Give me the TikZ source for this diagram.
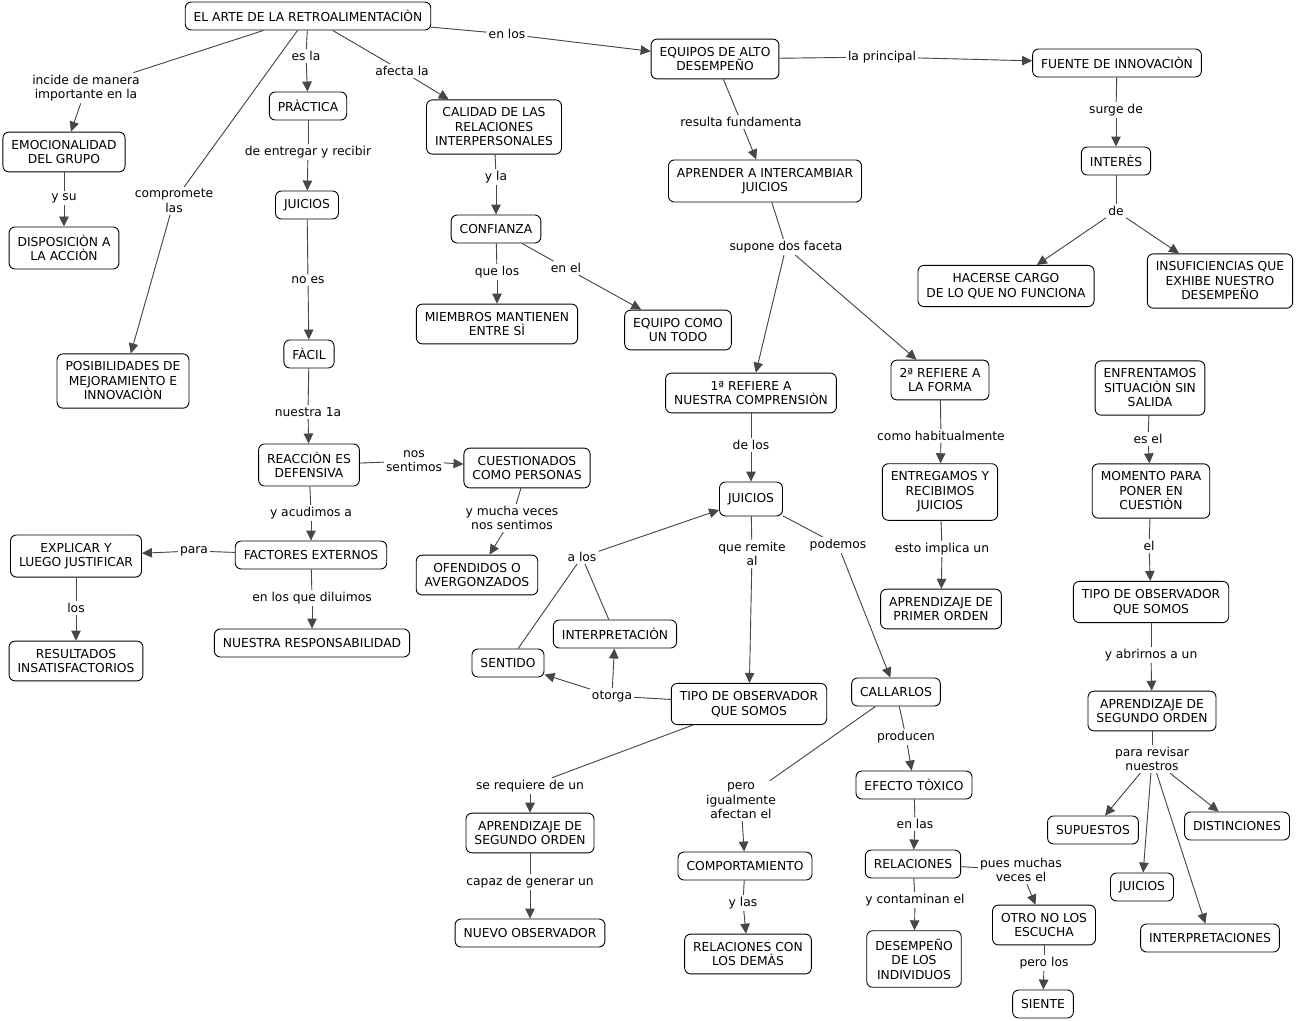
\documentclass[tikz,border=0pt]{standalone}
\usepackage{fontspec}
\setmainfont{DejaVu Sans}
\usetikzlibrary{arrows.meta}
\definecolor{linkgray}{HTML}{474747}
\tikzset{>={Triangle[length=10pt,width=9.5pt]}}
\tikzset{
  concept/.style={draw=black, line width=0.9pt, rounded corners=6pt, fill=white,
    align=center, inner xsep=8.5pt, inner ysep=8pt, minimum height=28pt,
    font=\fontsize{12.3}{14.5}\selectfont},
  linkph/.style={align=center, inner sep=2pt, font=\fontsize{12.3}{14.5}\selectfont},
  rel/.style={draw=linkgray, fill=linkgray, line width=0.9pt}
}
\begin{document}
\begin{tikzpicture}[x=1pt,y=-1pt]
    \useasboundingbox[fill=white] (0,0) rectangle (1297,1020);
    % concepts
    \node [concept] (arte) at (308,16) {EL ARTE DE LA RETROALIMENTACIÒN};
    \node [concept] (equipos) at (715,59) {EQUIPOS DE ALTO\\DESEMPEÑO};
    \node [concept] (fuente) at (1117,63) {FUENTE DE INNOVACIÒN};
    \node [concept] (interes) at (1116,161) {INTERÈS};
    \node [concept] (cargo) at (1006,286) {HACERSE CARGO\\DE LO QUE NO FUNCIONA};
    \node [concept] (insuf) at (1220,281) {INSUFICIENCIAS QUE\\EXHIBE NUESTRO\\DESEMPEÑO};
    \node [concept] (emoc) at (64,152) {EMOCIONALIDAD\\DEL GRUPO};
    \node [concept] (dispo) at (64,248) {DISPOSICIÒN A\\LA ACCIÒN};
    \node [concept] (posib) at (123,381) {POSIBILIDADES DE\\MEJORAMIENTO E\\INNOVACIÒN};
    \node [concept] (practica) at (308,106) {PRÀCTICA};
    \node [concept] (juiciosa) at (307,205) {JUICIOS};
    \node [concept] (facil) at (309,354) {FÀCIL};
    \node [concept] (reaccion) at (309,465) {REACCIÒN ES\\DEFENSIVA};
    \node [concept] (cuest) at (527,468) {CUESTIONADOS\\COMO PERSONAS};
    \node [concept] (ofend) at (477,575) {OFENDIDOS O\\AVERGONZADOS};
    \node [concept] (factores) at (311,555) {FACTORES EXTERNOS};
    \node [concept] (explicar) at (76,556) {EXPLICAR Y\\LUEGO JUSTIFICAR};
    \node [concept] (result) at (76,661) {RESULTADOS\\INSATISFACTORIOS};
    \node [concept] (respons) at (312,643) {NUESTRA RESPONSABILIDAD};
    \node [concept] (calidad) at (494,127) {CALIDAD DE LAS\\RELACIONES\\INTERPERSONALES};
    \node [concept] (confianza) at (496,229) {CONFIANZA};
    \node [concept] (miembros) at (497,324) {MIEMBROS MANTIENEN\\ENTRE SÌ};
    \node [concept] (todo) at (678,330) {EQUIPO COMO\\UN TODO};
    \node [concept] (aprender) at (765,181) {APRENDER A INTERCAMBIAR\\JUICIOS};
    \node [concept] (refa) at (751,393) {1ª REFIERE A\\NUESTRA COMPRENSIÒN};
    \node [concept] (refb) at (940,380) {2ª REFIERE A\\LA FORMA};
    \node [concept] (entreg) at (940,492) {ENTREGAMOS Y\\RECIBIMOS\\JUICIOS};
    \node [concept] (primer) at (941,609) {APRENDIZAJE DE\\PRIMER ORDEN};
    \node [concept, minimum height=34pt] (juiciosb) at (751,499) {JUICIOS};
    \node [concept] (interp) at (615,634) {INTERPRETACIÒN};
    \node [concept] (sentido) at (508,663) {SENTIDO};
    \node [concept] (tipoa) at (749,704) {TIPO DE OBSERVADOR\\QUE SOMOS};
    \node [concept] (callar) at (896,692) {CALLARLOS};
    \node [concept] (segunda) at (530,833) {APRENDIZAJE DE\\SEGUNDO ORDEN};
    \node [concept] (nuevo) at (530,933) {NUEVO OBSERVADOR};
    \node [concept] (compor) at (745,866) {COMPORTAMIENTO};
    \node [concept] (demas) at (748,954) {RELACIONES CON\\LOS DEMÀS};
    \node [concept] (toxico) at (914,785) {EFECTO TÒXICO};
    \node [concept] (relac) at (913,864) {RELACIONES};
    \node [concept] (desemp) at (914,959) {DESEMPEÑO\\DE LOS\\INDIVIDUOS};
    \node [concept] (otro) at (1044,925) {OTRO NO LOS\\ESCUCHA};
    \node [concept] (siente) at (1043,1004) {SIENTE};
    \node [concept] (enfren) at (1150,388) {ENFRENTAMOS\\SITUACIÒN SIN\\SALIDA};
    \node [concept] (momento) at (1151,491) {MOMENTO PARA\\PONER EN\\CUESTIÒN};
    \node [concept] (tipob) at (1151,602) {TIPO DE OBSERVADOR\\QUE SOMOS};
    \node [concept] (segundb) at (1152,711) {APRENDIZAJE DE\\SEGUNDO ORDEN};
    \node [concept] (supuestos) at (1093,830) {SUPUESTOS};
    \node [concept] (distinc) at (1237,826) {DISTINCIONES};
    \node [concept] (juiciosc) at (1142,887) {JUICIOS};
    \node [concept] (interps) at (1210,938) {INTERPRETACIONES};
    % linking phrases
    \node [linkph] (l1) at (507,34) {en los};
    \node [linkph] (l2) at (882,57) {la principal};
    \node [linkph] (l3) at (1116,110) {surge de};
    \node [linkph] (l4) at (1116,211) {de};
    \node [linkph] (l5) at (86,88) {incide de manera\\importante en la};
    \node [linkph] (l6) at (64,198) {y su};
    \node [linkph] (l7) at (174,201) {compromete\\las};
    \node [linkph] (l8) at (306,56) {es la};
    \node [linkph] (l9) at (308,152) {de entregar y recibir};
    \node [linkph] (l10) at (308,280) {no es};
    \node [linkph] (l11) at (308,412) {nuestra 1a};
    \node [linkph] (l12) at (414,461) {nos\\sentimos};
    \node [linkph] (l13) at (512,518) {y mucha veces\\nos sentimos};
    \node [linkph] (l14) at (311,513) {y acudimos a};
    \node [linkph] (l15) at (194,551) {para};
    \node [linkph] (l16) at (76,608) {los};
    \node [linkph] (l17) at (312,598) {en los que diluimos};
    \node [linkph] (l18) at (402,71) {afecta la};
    \node [linkph] (l19) at (496,177) {y la};
    \node [linkph] (l20) at (497,272) {que los};
    \node [linkph] (l21) at (566,268) {en el};
    \node [linkph] (l22) at (741,122) {resulta fundamenta};
    \node [linkph] (l23) at (786,247) {supone dos faceta};
    \node [linkph] (l24) at (751,445) {de los};
    \node [linkph] (l25) at (941,436) {como habitualmente};
    \node [linkph] (l26) at (942,549) {esto implica un};
    \node [linkph] (l27) at (752,554) {que remite\\al};
    \node [linkph] (l28) at (838,545) {podemos};
    \node [linkph] (l29) at (582,557) {a los};
    \node [linkph] (l30) at (612,696) {otorga};
    \node [linkph] (l31) at (530,786) {se requiere de un};
    \node [linkph] (l32) at (530,882) {capaz de generar un};
    \node [linkph] (l33) at (741,801) {pero\\igualmente\\afectan el};
    \node [linkph] (l34) at (906,737) {producen};
    \node [linkph] (l35) at (743,903) {y las};
    \node [linkph] (l36) at (915,824) {en las};
    \node [linkph] (l37) at (915,900) {y contaminan el};
    \node [linkph] (l38) at (1021,870) {pues muchas\\veces el};
    \node [linkph] (l39) at (1044,963) {pero los};
    \node [linkph] (l40) at (1148,439) {es el};
    \node [linkph] (l41) at (1149,546) {el};
    \node [linkph] (l42) at (1151,655) {y abrirnos a un};
    \node [linkph] (l43) at (1152,759) {para revisar\\nuestros};
    % connectors
    \draw [rel] (arte) -- (l1);
    \draw [rel,->] (l1) -- (equipos);
    \draw [rel] (equipos) -- (l2);
    \draw [rel,->] (l2) -- (fuente);
    \draw [rel] (fuente) -- (l3);
    \draw [rel,->] (l3) -- (interes);
    \draw [rel] (interes) -- (l4);
    \draw [rel,->] (l4) -- (cargo);
    \draw [rel,->] (l4) -- (insuf);
    \draw [rel] (arte) -- (l5);
    \draw [rel,->] (l5) -- (emoc);
    \draw [rel] (emoc) -- (l6);
    \draw [rel,->] (l6) -- (dispo);
    \draw [rel] (arte) -- (l7);
    \draw [rel,->] (l7) -- (posib);
    \draw [rel] (arte) -- (l8);
    \draw [rel,->] (l8) -- (practica);
    \draw [rel] (practica) -- (l9);
    \draw [rel,->] (l9) -- (juiciosa);
    \draw [rel] (juiciosa) -- (l10);
    \draw [rel,->] (l10) -- (facil);
    \draw [rel] (facil) -- (l11);
    \draw [rel,->] (l11) -- (reaccion);
    \draw [rel] (reaccion) -- (l12);
    \draw [rel,->] (l12) -- (cuest);
    \draw [rel] (cuest) -- (l13);
    \draw [rel,->] (l13) -- (ofend);
    \draw [rel] (reaccion) -- (l14);
    \draw [rel,->] (l14) -- (factores);
    \draw [rel] (factores) -- (l15);
    \draw [rel,->] (l15) -- (explicar);
    \draw [rel] (explicar) -- (l16);
    \draw [rel,->] (l16) -- (result);
    \draw [rel] (factores) -- (l17);
    \draw [rel,->] (l17) -- (respons);
    \draw [rel] (arte) -- (l18);
    \draw [rel,->] (l18) -- (calidad);
    \draw [rel] (calidad) -- (l19);
    \draw [rel,->] (l19) -- (confianza);
    \draw [rel] (confianza) -- (l20);
    \draw [rel,->] (l20) -- (miembros);
    \draw [rel] (confianza) -- (l21);
    \draw [rel,->] (l21) -- (todo);
    \draw [rel] (equipos) -- (l22);
    \draw [rel,->] (l22) -- (aprender);
    \draw [rel] (aprender) -- (l23);
    \draw [rel,->] (l23) -- (refa);
    \draw [rel,->] (l23) -- (refb);
    \draw [rel] (refa) -- (l24);
    \draw [rel,->] (l24) -- (juiciosb);
    \draw [rel] (refb) -- (l25);
    \draw [rel,->] (l25) -- (entreg);
    \draw [rel] (entreg) -- (l26);
    \draw [rel,->] (l26) -- (primer);
    \draw [rel] (juiciosb) -- (l27);
    \draw [rel,->] (l27) -- (tipoa);
    \draw [rel] (juiciosb) -- (l28);
    \draw [rel,->] (l28) -- (callar);
    \draw [rel] (sentido) -- (l29);
    \draw [rel] (interp) -- (l29);
    \draw [rel,->] (l29) -- (juiciosb);
    \draw [rel] (tipoa) -- (l30);
    \draw [rel,->] (l30) -- (sentido);
    \draw [rel,->] (l30) -- (interp);
    \draw [rel] (tipoa) -- (l31);
    \draw [rel,->] (l31) -- (segunda);
    \draw [rel] (segunda) -- (l32);
    \draw [rel,->] (l32) -- (nuevo);
    \draw [rel] (callar) -- (l33);
    \draw [rel,->] (l33) -- (compor);
    \draw [rel] (callar) -- (l34);
    \draw [rel,->] (l34) -- (toxico);
    \draw [rel] (compor) -- (l35);
    \draw [rel,->] (l35) -- (demas);
    \draw [rel] (toxico) -- (l36);
    \draw [rel,->] (l36) -- (relac);
    \draw [rel] (relac) -- (l37);
    \draw [rel,->] (l37) -- (desemp);
    \draw [rel] (relac) -- (l38);
    \draw [rel,->] (l38) -- (otro);
    \draw [rel] (otro) -- (l39);
    \draw [rel,->] (l39) -- (siente);
    \draw [rel] (enfren) -- (l40);
    \draw [rel,->] (l40) -- (momento);
    \draw [rel] (momento) -- (l41);
    \draw [rel,->] (l41) -- (tipob);
    \draw [rel] (tipob) -- (l42);
    \draw [rel,->] (l42) -- (segundb);
    \draw [rel] (segundb) -- (l43);
    \draw [rel,->] (l43) -- (supuestos);
    \draw [rel,->] (l43) -- (juiciosc);
    \draw [rel,->] (l43) -- (interps);
    \draw [rel,->] (l43) -- (distinc);
\end{tikzpicture}
\end{document}
